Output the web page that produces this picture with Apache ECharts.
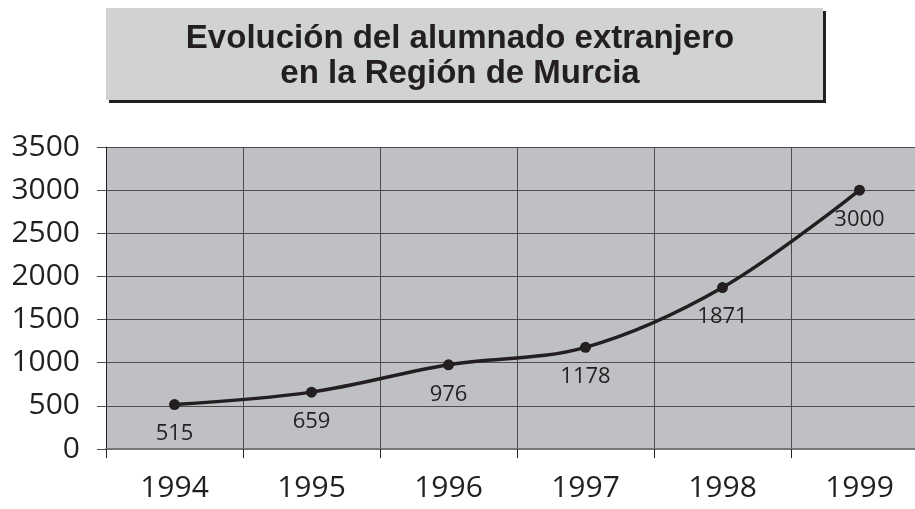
<!DOCTYPE html>
<html>
<head>
<meta charset="utf-8">
<script src="https://cdn.jsdelivr.net/npm/echarts@6/dist/echarts.min.js"></script>
<style>
  html, body { margin: 0; padding: 0; background: #fff; overflow: hidden; }
  #chart { width: 928px; height: 509px; }
</style>
</head>
<body>
<div id="chart"></div>
<script>
// datos
var years = ['1994', '1995', '1996', '1997', '1998', '1999']
var alumnos = [515, 659, 976, 1178, 1871, 3000]
var titleLines = ['Evolución del alumnado extranjero', 'en la Región de Murcia']

var myChart = echarts.init(document.getElementById('chart'))
myChart.setOption({
  animation: false,
  graphic: [
    {
      // sombra del recuadro del título
      type: 'rect',
      shape: { x: 109, y: 11, width: 717, height: 92 },
      style: { fill: '#231f20' }
    },
    {
      type: 'rect',
      shape: { x: 106, y: 8, width: 717, height: 92 },
      style: { fill: '#d1d2d4' }
    },
    {
      type: 'text',
      x: 460,
      y: 56,
      style: {
        text: titleLines.join('\n'),
        fontFamily: 'Liberation Sans',
        fontWeight: 'bold',
        fontSize: 33,
        lineHeight: 35,
        fill: '#231f20',
        align: 'center',
        verticalAlign: 'middle'
      }
    }
  ],
  grid: {
    left: 106,
    right: 0,
    top: 147,
    bottom: 60,
    show: true,
    backgroundColor: '#bfc0c4',
    borderWidth: 0
  },
  xAxis: {
    type: 'category',
    data: years,
    boundaryGap: true,
    axisLine: { lineStyle: { color: '#77787b', width: 2 } },
    axisTick: { show: true, length: 9, interval: 0, lineStyle: { color: '#231f20' } },
    splitLine: { show: true, interval: 0, lineStyle: { color: '#4d4d4f', width: 1 } },
    axisLabel: {
      margin: 24,
      fontFamily: 'Open Sans',
      fontSize: 30,
      color: '#231f20'
    }
  },
  yAxis: {
    type: 'value',
    min: 0,
    max: 3500,
    interval: 500,
    axisLine: { show: true, lineStyle: { color: '#231f20', width: 1 } },
    axisTick: { show: true, length: 9, lineStyle: { color: '#4d4d4f' } },
    splitLine: { show: true, lineStyle: { color: '#4d4d4f', width: 1 } },
    axisLabel: {
      margin: 26,
      fontFamily: 'Open Sans',
      fontSize: 30,
      color: '#231f20',
      formatter: function (v) { return String(v) }
    }
  },
  series: [
    {
      type: 'line',
      data: alumnos,
      smooth: 0.35,
      symbol: 'circle',
      symbolSize: 11,
      itemStyle: { color: '#231f20' },
      lineStyle: { color: '#231f20', width: 3.5 },
      label: {
        show: true,
        position: 'bottom',
        distance: 13,
        fontFamily: 'Open Sans',
        fontSize: 22,
        color: '#231f20'
      }
    }
  ]
})
</script>
</body>
</html>
